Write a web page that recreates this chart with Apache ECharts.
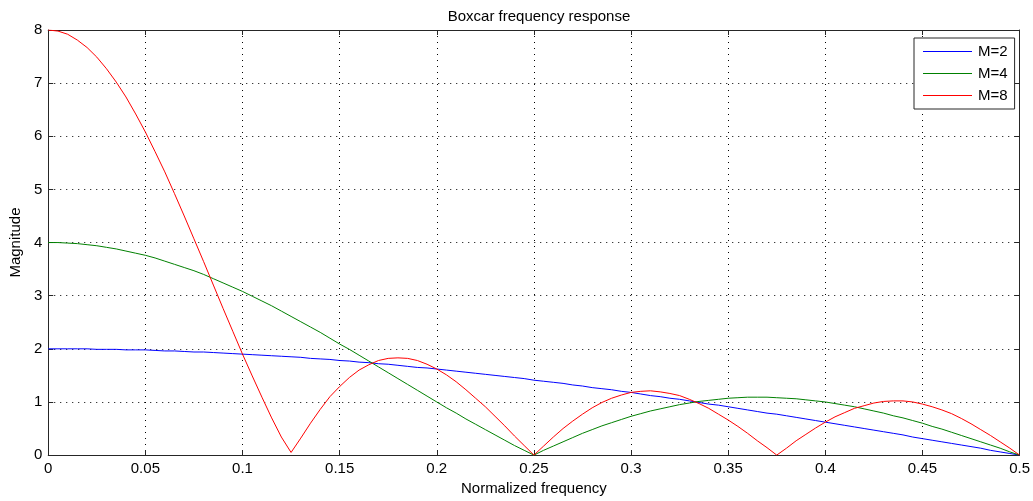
<!DOCTYPE html>
<html>
<head>
<meta charset="utf-8">
<title>Boxcar frequency response</title>
<script src="https://cdn.jsdelivr.net/npm/echarts@6/dist/echarts.min.js"></script>
<style>
    html, body { margin: 0; padding: 0; background: #fff; }
    #chart { width: 1033px; height: 501px; }
</style>
</head>
<body>
<div id="chart"></div>
<script>
// normalized frequency (x)
var freq = [
    0, 0.005, 0.01, 0.015, 0.02, 0.025, 0.03, 0.035, 0.04, 0.045,
    0.05, 0.055, 0.06, 0.065, 0.07, 0.075, 0.08, 0.085, 0.09, 0.095,
    0.1, 0.105, 0.11, 0.115, 0.12, 0.125, 0.13, 0.135, 0.14, 0.145,
    0.15, 0.155, 0.16, 0.165, 0.17, 0.175, 0.18, 0.185, 0.19, 0.195,
    0.2, 0.205, 0.21, 0.215, 0.22, 0.225, 0.23, 0.235, 0.24, 0.245,
    0.25, 0.255, 0.26, 0.265, 0.27, 0.275, 0.28, 0.285, 0.29, 0.295,
    0.3, 0.305, 0.31, 0.315, 0.32, 0.325, 0.33, 0.335, 0.34, 0.345,
    0.35, 0.355, 0.36, 0.365, 0.37, 0.375, 0.38, 0.385, 0.39, 0.395,
    0.4, 0.405, 0.41, 0.415, 0.42, 0.425, 0.43, 0.435, 0.44, 0.445,
    0.45, 0.455, 0.46, 0.465, 0.47, 0.475, 0.48, 0.485, 0.49, 0.495,
    0.5
];

// magnitude, M=2
var magM2 = [
    2.00, 2.00, 2.00, 2.00, 2.00, 1.99, 1.99, 1.99, 1.98, 1.98,
    1.98, 1.97, 1.96, 1.96, 1.95, 1.94, 1.94, 1.93, 1.92, 1.91,
    1.90, 1.89, 1.88, 1.87, 1.86, 1.85, 1.84, 1.82, 1.81, 1.80,
    1.78, 1.77, 1.75, 1.74, 1.72, 1.71, 1.69, 1.67, 1.65, 1.64,
    1.62, 1.60, 1.58, 1.56, 1.54, 1.52, 1.50, 1.48, 1.46, 1.44,
    1.41, 1.39, 1.37, 1.35, 1.32, 1.30, 1.27, 1.25, 1.23, 1.20,
    1.18, 1.15, 1.12, 1.10, 1.07, 1.05, 1.02, 0.99, 0.96, 0.94,
    0.91, 0.88, 0.85, 0.82, 0.79, 0.77, 0.74, 0.71, 0.68, 0.65,
    0.62, 0.59, 0.56, 0.53, 0.50, 0.47, 0.44, 0.41, 0.38, 0.34,
    0.31, 0.28, 0.25, 0.22, 0.19, 0.16, 0.13, 0.09, 0.06, 0.03,
    0.00
];

// magnitude, M=4
var magM4 = [
    4.00, 4.00, 3.99, 3.98, 3.96, 3.94, 3.91, 3.88, 3.84, 3.80,
    3.76, 3.71, 3.65, 3.59, 3.53, 3.47, 3.40, 3.32, 3.24, 3.16,
    3.08, 2.99, 2.90, 2.81, 2.71, 2.61, 2.51, 2.41, 2.31, 2.20,
    2.09, 1.99, 1.88, 1.77, 1.66, 1.55, 1.44, 1.33, 1.22, 1.11,
    1.00, 0.89, 0.79, 0.68, 0.58, 0.48, 0.38, 0.28, 0.18, 0.09,
    0.00, 0.09, 0.17, 0.25, 0.33, 0.41, 0.48, 0.55, 0.61, 0.67,
    0.73, 0.78, 0.83, 0.87, 0.91, 0.95, 0.98, 1.01, 1.03, 1.05,
    1.07, 1.08, 1.09, 1.09, 1.09, 1.08, 1.07, 1.06, 1.04, 1.02,
    1.00, 0.97, 0.94, 0.91, 0.87, 0.83, 0.79, 0.74, 0.70, 0.65,
    0.60, 0.54, 0.49, 0.43, 0.37, 0.31, 0.25, 0.19, 0.13, 0.06,
    0.00
];

// magnitude, M=8
var magM8 = [
    8.00, 7.98, 7.92, 7.81, 7.67, 7.49, 7.27, 7.02, 6.74, 6.42,
    6.08, 5.71, 5.33, 4.92, 4.50, 4.07, 3.64, 3.20, 2.76, 2.33,
    1.90, 1.49, 1.09, 0.70, 0.34, 0.05, 0.32, 0.60, 0.86, 1.10,
    1.29, 1.46, 1.60, 1.70, 1.78, 1.82, 1.83, 1.82, 1.78, 1.71,
    1.62, 1.51, 1.38, 1.23, 1.07, 0.91, 0.73, 0.55, 0.36, 0.18,
    0.00, 0.17, 0.34, 0.50, 0.64, 0.77, 0.89, 0.99, 1.07, 1.13,
    1.18, 1.20, 1.21, 1.19, 1.16, 1.12, 1.05, 0.97, 0.88, 0.77,
    0.66, 0.54, 0.41, 0.27, 0.14, 0.00, 0.13, 0.27, 0.39, 0.51,
    0.62, 0.72, 0.80, 0.88, 0.93, 0.98, 1.01, 1.02, 1.02, 1.00,
    0.96, 0.91, 0.85, 0.78, 0.69, 0.59, 0.48, 0.37, 0.25, 0.13,
    0.00
];

var seriesNames = ['M=2', 'M=4', 'M=8'];
var seriesColors = ['#0000ff', '#008000', '#ff0000'];
var seriesValues = [magM2, magM4, magM8];

var fontName = 'Liberation Sans, Arial, sans-serif';
var fontSize = 15;
var axisColor = '#262626';

// 坐标对 [x, y]
function pairs(values) {
    var out = [];
    for (var i = 0; i < freq.length; i++) {
        out.push([freq[i], values[i]]);
    }
    return out;
}

var series = [];
var legendLines = []; // 图例里的细线
for (var s = 0; s < seriesNames.length; s++) {
    series.push({
        name: seriesNames[s],
        type: 'line',
        data: pairs(seriesValues[s]),
        showSymbol: false,
        symbol: 'none',
        animation: false,
        color: seriesColors[s],
        lineStyle: { color: seriesColors[s], width: 1 },
        itemStyle: { color: seriesColors[s] },
        z: 3
    });
    legendLines.push({
        type: 'line',
        z: 100,
        silent: true,
        shape: { x1: 923, y1: 51.5 + s * 22, x2: 972, y2: 51.5 + s * 22 },
        style: { stroke: seriesColors[s], lineWidth: 1 }
    });
}

var tickStyle = { show: true, inside: true, length: 5, lineStyle: { color: axisColor, width: 1 } };
var gridDots = { show: true, lineStyle: { color: '#000', width: 1, type: [1, 5] } };

var myChart = echarts.init(document.getElementById('chart'), null, { renderer: 'canvas' });
var option = {
    backgroundColor: '#fff',
    animation: false,
    color: seriesColors,
    textStyle: { fontFamily: fontName },
    title: {
        text: 'Boxcar frequency response',
        left: 534,
        textAlign: 'center',
        top: 4,
        textStyle: { fontSize: fontSize, fontWeight: 'normal', color: '#000', fontFamily: fontName }
    },
    legend: {
        data: seriesNames,
        orient: 'vertical',
        left: 914,
        top: 38,
        backgroundColor: '#fff',
        borderColor: axisColor,
        borderWidth: 1,
        borderRadius: 0,
        padding: [6, 7, 6, 9],
        itemGap: 7,
        itemWidth: 49,
        itemHeight: 15,
        // 图例自带的图标隐藏，细线由 graphic 画
        itemStyle: { opacity: 0 },
        lineStyle: { opacity: 0 },
        textStyle: { fontSize: fontSize, color: '#000', fontFamily: fontName }
    },
    graphic: legendLines,
    grid: { left: 48, right: 12, top: 30, bottom: 43, containLabel: false },
    xAxis: [{
        type: 'value',
        min: 0, max: 0.5, interval: 0.05,
        name: 'Normalized frequency',
        nameLocation: 'middle',
        nameGap: 25,
        nameTextStyle: { fontSize: fontSize, color: '#000', fontFamily: fontName },
        axisLine: { show: true, lineStyle: { color: axisColor, width: 1 } },
        axisTick: tickStyle,
        axisLabel: { fontSize: fontSize, color: '#000', margin: 6, fontFamily: fontName },
        splitLine: gridDots
    }, {
        type: 'value',
        position: 'top',
        min: 0, max: 0.5, interval: 0.05,
        axisLine: { show: true, onZero: false, lineStyle: { color: axisColor, width: 1 } },
        axisTick: tickStyle,
        axisLabel: { show: false },
        splitLine: { show: false }
    }],
    yAxis: [{
        type: 'value',
        min: 0, max: 8, interval: 1,
        name: 'Magnitude',
        nameLocation: 'middle',
        nameGap: 23,
        nameRotate: 90,
        nameTextStyle: { fontSize: fontSize, color: '#000', fontFamily: fontName },
        axisLine: { show: true, onZero: false, lineStyle: { color: axisColor, width: 1 } },
        axisTick: tickStyle,
        axisLabel: { fontSize: fontSize, color: '#000', margin: 6, fontFamily: fontName },
        splitLine: gridDots
    }, {
        type: 'value',
        position: 'right',
        min: 0, max: 8, interval: 1,
        axisLine: { show: true, onZero: false, lineStyle: { color: axisColor, width: 1 } },
        axisTick: tickStyle,
        axisLabel: { show: false },
        splitLine: { show: false }
    }],
    series: series
};
myChart.setOption(option);
</script>
</body>
</html>
